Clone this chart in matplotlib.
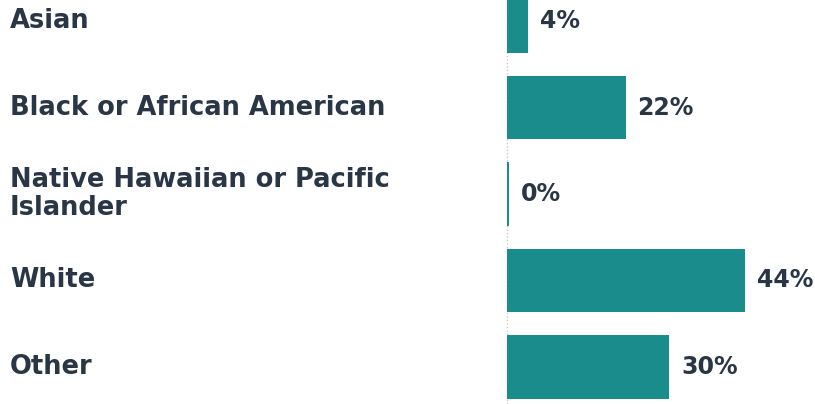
import matplotlib

matplotlib.use("Agg")
import matplotlib.pyplot as plt

# race breakdown, percent
categories = [
    "Asian",
    "Black or African American",
    "Native Hawaiian or Pacific\nIslander",
    "White",
    "Other",
]
values = [4, 22, 0, 44, 30]
value_labels = ["4%", "22%", "0%", "44%", "30%"]

BAR_COLOR = "#1a8c8c"
TEXT_COLOR = "#2a3646"
FONT = "DejaVu Sans"

fig = plt.figure(figsize=(8.15, 4.04), dpi=100)
ax = fig.add_axes([0, 0, 1, 1])

y = list(range(len(categories)))
bar_widths = [max(v, 0.5) for v in values]  # keep the 0% sliver visible
ax.barh(y, bar_widths, height=0.735, color=BAR_COLOR, linewidth=0, zorder=2)

ax.set_xlim(-93.6, 57.0)
ax.set_ylim(4.428, -0.243)

# faint dotted baseline
ax.axvline(0, color="#c9c9c9", linestyle=(0, (1, 1.5)), linewidth=1.0, zorder=1)

label_tf = ax.get_yaxis_transform()
for yi, cat in zip(y, categories):
    ax.text(10 / 815, yi, cat, transform=label_tf, ha="left", va="center",
            fontsize=18.5, fontweight="bold", color=TEXT_COLOR, family=FONT,
            linespacing=1.1)

for yi, w, lab in zip(y, bar_widths, value_labels):
    ax.annotate(lab, (w, yi), xytext=(12, 0), textcoords="offset pixels",
                ha="left", va="center", fontsize=17, fontweight="bold",
                color=TEXT_COLOR, family=FONT)

ax.axis("off")
fig.savefig("out.png", dpi=100)
